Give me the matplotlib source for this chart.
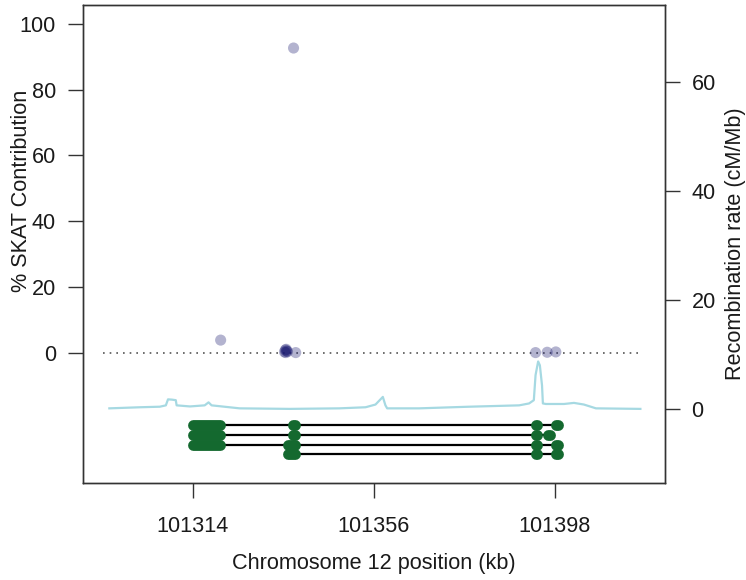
import numpy as np
import matplotlib
matplotlib.use("Agg")
import matplotlib.pyplot as plt

plt.rcParams['font.family'] = ['Liberation Sans', 'DejaVu Sans']

# SNP contributions (position in kb, % SKAT contribution)
snp_pos = [101337.4, 101320.5, 101335.3, 101335.5, 101335.6, 101335.8, 101336.0, 101335.7,
           101337.9, 101393.5, 101396.2, 101398.2]
snp_pct = [92.7, 3.8, 0.2, 0.8, 0.0, 0.5, 0.3, 1.0,
           0.0, 0.0, 0.1, 0.2]

# recombination rate along the region (kb, cM/Mb)
rec_pos = [101294.7, 101301.8, 101306.4, 101307.8, 101308.3, 101309.2, 101310.1, 101310.3,
           101313.4, 101316.8, 101317.7, 101318.4, 101324.9, 101336.5, 101348.0, 101354.1,
           101356.4, 101358.1, 101358.7, 101359.1, 101366.5, 101374.2, 101378.1, 101389.7,
           101392.0, 101393.1, 101393.5, 101394.1, 101394.5, 101395.0, 101395.2, 101395.9,
           101400.1, 101402.4, 101404.7, 101407.5, 101417.8]
rec_rate = [0.1, 0.3, 0.4, 0.65, 1.75, 1.7, 1.6, 0.65,
            0.45, 0.65, 1.2, 0.65, 0.1, 0.0, 0.1, 0.3,
            0.8, 2.2, 0.65, 0.1, 0.1, 0.3, 0.4, 0.65,
            1.0, 1.6, 6.2, 8.7, 8.0, 4.3, 1.0, 0.9,
            0.9, 1.1, 0.8, 0.1, 0.0]

# transcripts: exon (start, end) in kb
transcripts = [
    [(101314.0, 101320.4), (101337.3, 101337.7), (101393.6, 101393.9), (101398.3, 101398.6)],
    [(101314.0, 101320.4), (101337.3, 101337.7), (101393.6, 101393.9), (101396.5, 101396.8)],
    [(101314.0, 101320.4), (101336.0, 101337.7), (101393.6, 101393.9), (101398.3, 101398.6)],
    [(101336.0, 101337.7), (101393.6, 101393.9), (101398.3, 101398.6)],
]
tx_y = [-22, -25, -28, -31]

x_ticks = [101314, 101356, 101398]
left_ticks = [0, 20, 40, 60, 80, 100]
right_ticks = [0, 20, 40, 60]

txt = '#1a1a1a'
fs = 15.6

fig = plt.figure(figsize=(7.46, 5.8), dpi=100)
ax = fig.add_axes([0.1113, 0.1672, 0.7795, 0.8242])
ax2 = ax.twinx()
ax.set_zorder(ax2.get_zorder() + 1)
ax.patch.set_visible(False)

# recombination rate on the right scale
ax2.plot(rec_pos, rec_rate, color='#a6d9e2', lw=1.6)
ax2.set_ylim(-13.6, 74.1)
ax2.set_yticks(right_ticks)
ax2.set_ylabel('Recombination rate (cM/Mb)', fontsize=fs, color=txt)
ax2.yaxis.set_label_coords(1.104, 0.5)

# zero reference line
ax.hlines(0, rec_pos[0] - 1.4, rec_pos[-1], colors='#555555', linestyles=(0, (1, 3)), lw=1.2)

# SNP points
ax.scatter(snp_pos, snp_pct, s=64, color='#191970', alpha=0.33, edgecolors='none', zorder=3)

# gene track
for exons, y in zip(transcripts, tx_y):
    ax.plot([exons[0][0], exons[-1][1]], [y, y], color='black', lw=1.6, zorder=2)
    for s, e in exons:
        ax.plot([s, e], [y, y], color='#14692f', lw=7.8, solid_capstyle='round', zorder=3)

ax.set_xlim(101288.6, 101423.4)
ax.set_ylim(-39.7, 105.8)
ax.set_xticks(x_ticks)
ax.set_xticklabels([str(t) for t in x_ticks])
ax.set_yticks(left_ticks)
ax.set_xlabel('Chromosome 12 position (kb)', fontsize=fs, color=txt, labelpad=12)
ax.set_ylabel('% SKAT Contribution', fontsize=fs, color=txt)
ax.yaxis.set_label_coords(-0.088, 0.611)

for a in (ax, ax2):
    a.tick_params(direction='out', length=10.5, width=1.0, colors='#333333',
                  labelcolor=txt, labelsize=fs, pad=9)
    for sp in a.spines.values():
        sp.set_color('#333333')
        sp.set_linewidth(1.0)
ax.tick_params(axis='x', pad=13)

fig.savefig('out.png', dpi=100)
